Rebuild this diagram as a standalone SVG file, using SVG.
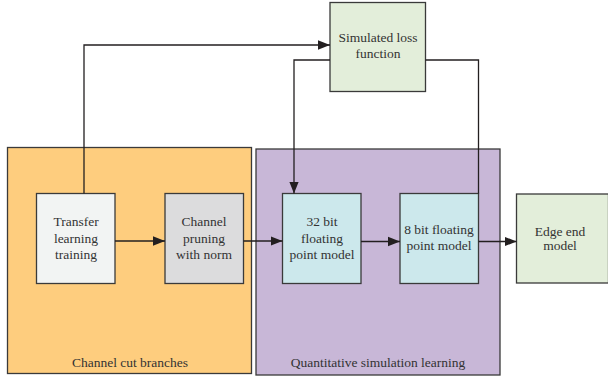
<svg xmlns="http://www.w3.org/2000/svg" width="608" height="381" viewBox="0 0 608 381">
<defs>
<marker id="ah" viewBox="0 0 10 10" refX="10" refY="5" markerWidth="12" markerHeight="12" markerUnits="userSpaceOnUse" orient="auto">
<path d="M0,1 L10,5 L0,9 Z" fill="#231f20"/>
</marker>
<style>
.box{stroke:#3a3a3a;stroke-width:1.3}
text{font-family:'Liberation Serif','Times New Roman',serif;font-size:13.5px;fill:#333;text-anchor:middle}
.c{fill:none;stroke:#231f20;stroke-width:1.3}
</style>
</defs>
<rect width="608" height="381" fill="#fff"/>
<g id="channel-cut-branches">
<rect class="box" x="7.5" y="147.5" width="244" height="226" fill="#fecd7e"/>
<text x="130" y="367">Channel cut branches</text>
</g>
<g id="quantitative-simulation-learning">
<rect class="box" x="256" y="149" width="244" height="226" fill="#c8b7d7"/>
<text x="378" y="367">Quantitative simulation learning</text>
</g>
<g id="simulated-loss">
<rect class="box" x="330" y="2.5" width="95.5" height="89" fill="#e3eeda"/>
<text x="378" y="42">Simulated loss</text>
<text x="378" y="58">function</text>
</g>
<g id="transfer">
<rect class="box" x="36.5" y="193.5" width="78.5" height="90" fill="#f2f4f3"/>
<text x="76" y="226">Transfer</text>
<text x="76" y="242.5">learning</text>
<text x="76" y="258.5">training</text>
</g>
<g id="channel-pruning">
<rect class="box" x="165" y="193.5" width="78.5" height="90" fill="#dcdcdd"/>
<text x="204" y="226">Channel</text>
<text x="204" y="242.5">pruning</text>
<text x="204" y="258.5">with norm</text>
</g>
<g id="bit32">
<rect class="box" x="282.5" y="193.5" width="78.5" height="90" fill="#cce8ec"/>
<text x="322" y="226">32 bit</text>
<text x="322" y="242.5">floating</text>
<text x="322" y="258.5">point model</text>
</g>
<g id="bit8">
<rect class="box" x="400" y="193.5" width="78.5" height="90" fill="#cce8ec"/>
<text x="439" y="234">8 bit floating</text>
<text x="439" y="250">point model</text>
</g>
<g id="edge-end">
<rect class="box" x="516.5" y="194" width="92" height="89" fill="#e3eeda"/>
<text x="560" y="235.5">Edge end</text>
<text x="560" y="250">model</text>
</g>
<g id="connectors">
<path class="c" d="M84,193.5 V45 H330" marker-end="url(#ah)"/>
<path class="c" d="M115,241 H165" marker-end="url(#ah)"/>
<path class="c" d="M243.5,241 H282.5" marker-end="url(#ah)"/>
<path class="c" d="M361,241.5 H400" marker-end="url(#ah)"/>
<path class="c" d="M478.5,241.5 H516.5" marker-end="url(#ah)"/>
<path class="c" d="M330,60 H294 V193.5" marker-end="url(#ah)"/>
<path class="c" d="M425.5,60 H478.5 V193.5"/>
</g>
</svg>
